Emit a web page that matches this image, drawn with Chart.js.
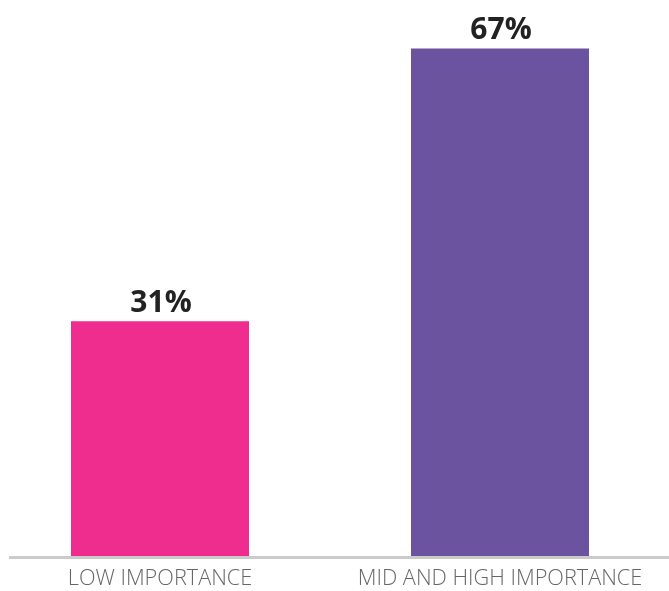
<!DOCTYPE html>
<html>
<head>
<meta charset="utf-8">
<script src="https://cdn.jsdelivr.net/npm/chart.js@4/dist/chart.umd.min.js"></script>
<style>
  html, body { margin: 0; padding: 0; background: #fff; overflow: hidden; }
  #wrap { position: relative; width: 680px; height: 591px; margin-left: -10px; }
</style>
</head>
<body>
<div id="wrap"><canvas id="chart"></canvas></div>
<script>
// 데이터
const categories = ["LOW IMPORTANCE", "MID AND HIGH IMPORTANCE"];
const values = [31, 67];
const barColors = ["#ee2d8f", "#6c53a0"];

// 막대 위 퍼센트 표시
const valueLabels = {
  id: "valueLabels",
  afterDatasetsDraw(chart) {
    const ctx = chart.ctx;
    const meta = chart.getDatasetMeta(0);
    ctx.save();
    ctx.font = "bold 30px 'Open Sans', sans-serif";
    ctx.fillStyle = "#222";
    ctx.textAlign = "center";
    ctx.textBaseline = "alphabetic";
    meta.data.forEach((bar, i) => {
      ctx.fillText(values[i] + "%", bar.x + 1, bar.y - 9);
    });
    ctx.restore();
  }
};

// 바닥 회색 선
const baseLine = {
  id: "baseLine",
  afterDatasetsDraw(chart) {
    const ctx = chart.ctx;
    const y = chart.scales.y.getPixelForValue(0);
    ctx.save();
    ctx.strokeStyle = "#cbcbcb";
    ctx.lineWidth = 3;
    ctx.beginPath();
    ctx.moveTo(chart.chartArea.left + 19, y + 1.5);
    ctx.lineTo(chart.chartArea.right, y + 1.5);
    ctx.stroke();
    ctx.restore();
  }
};

new Chart(document.getElementById("chart"), {
  type: "bar",
  data: {
    labels: categories,
    datasets: [{
      data: values,
      backgroundColor: barColors,
      borderWidth: 0,
      barPercentage: 1,
      categoryPercentage: 0.5235
    }]
  },
  options: {
    responsive: true,
    maintainAspectRatio: false,
    animation: false,
    layout: { padding: 0 },
    plugins: { legend: { display: false }, tooltip: { enabled: false } },
    scales: {
      x: {
        grid: { display: false, drawTicks: false },
        border: { display: false },
        ticks: {
          color: "#666",
          font: { family: "'Open Sans', sans-serif", size: 21.7, weight: 300 },
          padding: 10,
          maxRotation: 0
        },
        afterFit(scale) { scale.height = 35; }
      },
      y: {
        display: false,
        min: 0,
        max: 73.4
      }
    }
  },
  plugins: [valueLabels, baseLine]
});
</script>
</body>
</html>
